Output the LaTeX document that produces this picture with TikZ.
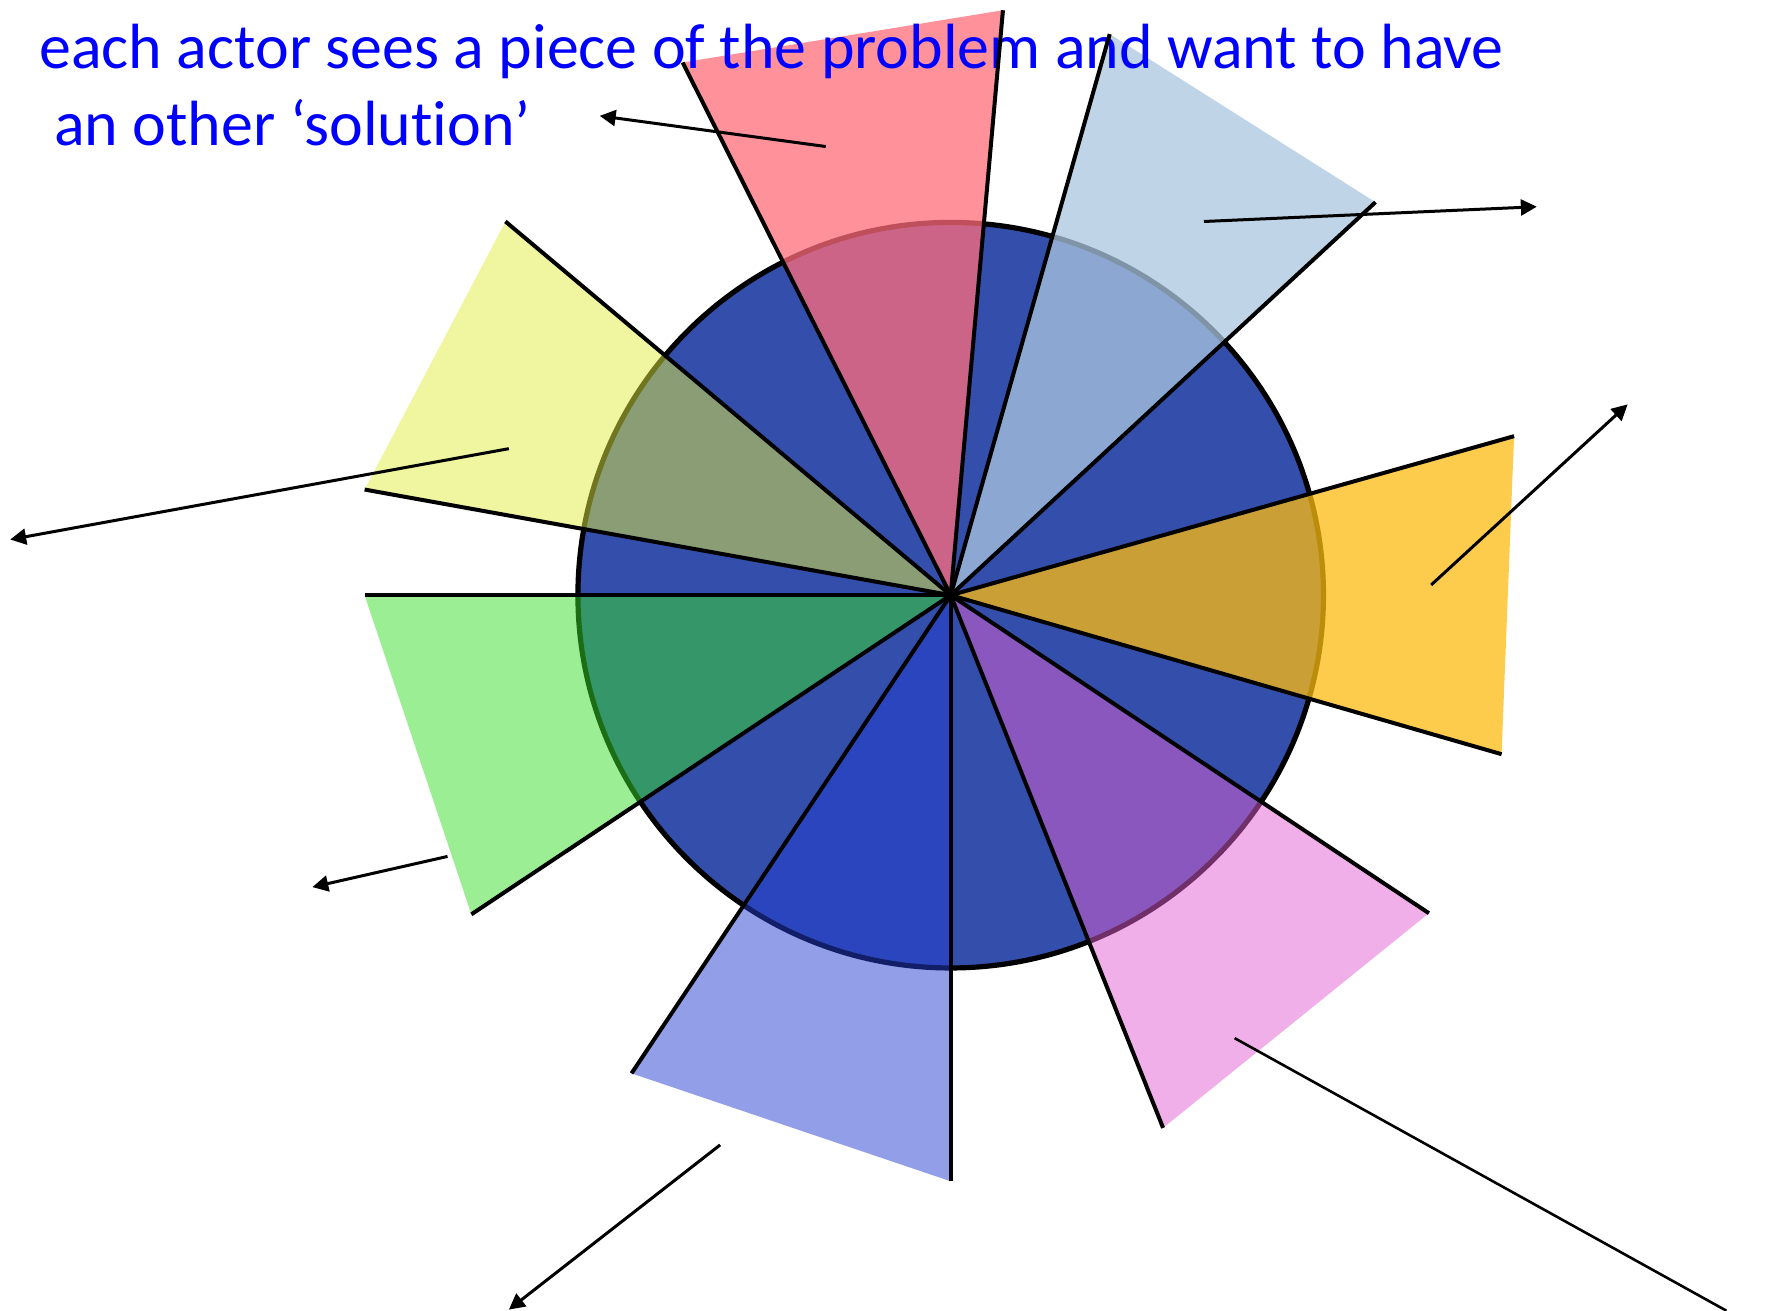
\documentclass[tikz,border=0pt]{standalone}
\usepackage{fontspec}
\setmainfont{Carlito}[Ligatures=NoCommon]
\usetikzlibrary{arrows.meta}
\definecolor{circblue}{RGB}{51,79,171}
\definecolor{wred}{RGB}{255,108,122}
\definecolor{wlblue}{RGB}{171,198,224}
\definecolor{worange}{RGB}{252,187,16}
\definecolor{wpink}{RGB}{225,95,209}
\definecolor{wperi}{RGB}{37,61,209}
\definecolor{wgreen}{RGB}{55,221,41}
\definecolor{wyellow}{RGB}{225,235,65}
\definecolor{textblue}{RGB}{0,0,255}
\begin{document}
\begin{tikzpicture}[x=0.01cm,y=-0.01cm,
  disc/.style={line width=1.3pt, draw=black, fill=circblue},
  wedgeA/.style={fill=#1, fill opacity=0.75},
  wedgeB/.style={fill=#1, fill opacity=0.5},
  edgeline/.style={line width=1pt, black},
  pointer/.style={line width=0.75pt, black, -{Triangle[length=1.4mm,width=1.4mm]}},
  plainpointer/.style={line width=0.65pt, black},
  caption/.style={anchor=base west, inner sep=0pt, text=textblue, font=\fontsize{16}{19}\selectfont}]
\useasboundingbox (0,0) rectangle (1568,1154);
% centre and wedge corners
\coordinate (C) at (837,524);
\coordinate (r1) at (601,55);   \coordinate (r2) at (883,9);
\coordinate (b1) at (977,30);   \coordinate (b2) at (1211,178);
\coordinate (o1) at (1333,384); \coordinate (o2) at (1322,664);
\coordinate (p1) at (1258,804); \coordinate (p2) at (1024,993);
\coordinate (v1) at (837,1040); \coordinate (v2) at (556,945);
\coordinate (g1) at (415,805);  \coordinate (g2) at (321,524);
\coordinate (y1) at (321,431);  \coordinate (y2) at (445,195);
% arrow ends
\coordinate (ra) at (727,129);  \coordinate (rb) at (528,102);
\coordinate (ba) at (1060,195); \coordinate (bb) at (1353,182);
\coordinate (oa) at (1260,515); \coordinate (ob) at (1433,356);
\coordinate (pa) at (1087,914); \coordinate (pb) at (1520,1154);
\coordinate (va) at (634,1008); \coordinate (vb) at (448,1153);
\coordinate (ga) at (394,754);  \coordinate (gb) at (275,781);
\coordinate (ya) at (448,395);  \coordinate (yb) at (9,475);
% circle
\draw[disc] (C) circle[radius=3.28cm];
% wedges
\fill[wedgeA=wred] (C) -- (r1) -- (r2) -- cycle;
\fill[wedgeA=wlblue] (C) -- (b1) -- (b2) -- cycle;
\fill[wedgeA=worange] (C) -- (o1) -- (o2) -- cycle;
\fill[wedgeB=wpink] (C) -- (p1) -- (p2) -- cycle;
\fill[wedgeB=wperi] (C) -- (v1) -- (v2) -- cycle;
\fill[wedgeB=wgreen] (C) -- (g1) -- (g2) -- cycle;
\fill[wedgeB=wyellow] (C) -- (y1) -- (y2) -- cycle;
% caption
\node[caption] (t1) at (34,60) {each actor sees a piece of the problem and want to have};
\node[caption] (t2) at (47,128) {an other ‘solution’};
% wedge edges
\foreach \p in {r1,r2,b1,b2,o1,o2,p1,p2,v1,v2,g1,g2,y1,y2}
  \draw[edgeline] (C) -- (\p);
% arrows
\draw[pointer] (ra) -- (rb);
\draw[pointer] (ba) -- (bb);
\draw[pointer] (oa) -- (ob);
\draw[plainpointer] (pa) -- (pb);
\draw[pointer] (va) -- (vb);
\draw[pointer] (ga) -- (gb);
\draw[pointer] (ya) -- (yb);
\end{tikzpicture}
\end{document}
